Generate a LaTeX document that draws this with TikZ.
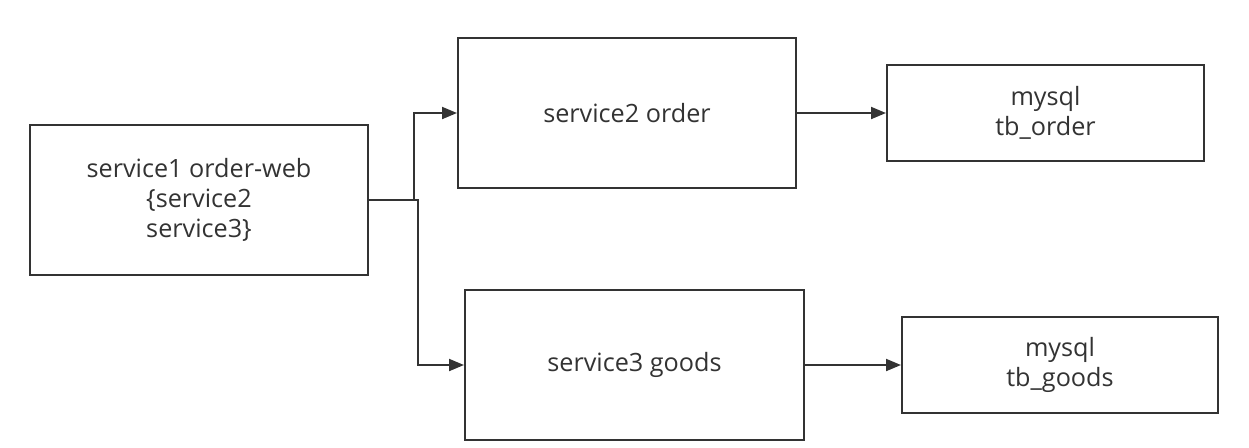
\documentclass[tikz,border=0pt]{standalone}
\usepackage{fontspec}
\setmainfont{Open Sans}
\usepackage{tikz}
\usepackage{xcolor}
\usetikzlibrary{arrows.meta}
\definecolor{BoxLine}{RGB}{51, 51, 51}
\definecolor{BoxText}{RGB}{51, 51, 51}

\begin{document}
\begin{tikzpicture}[x=0.5pt, y=-0.5pt,
    svcbox/.style={draw=BoxLine, line width=1pt, fill=white, align=center, text=BoxText,
        font=\fontsize{12.6}{15.2}\selectfont, inner sep=0pt},
    link/.style={BoxLine, line width=1pt, -{Triangle[length=7.5pt, width=6pt]}}]
            \useasboundingbox (0,0) rectangle (1249,447);
            % Caller
            \node[svcbox, minimum width=169pt, minimum height=75pt] (s1) at (199,200) {service1 order-web\\\{service2\\ service3\}};
            
            % Services
            \node[svcbox, minimum width=169pt, minimum height=75pt] (s2) at (627,113) {service2 order};
            \node[svcbox, minimum width=169.5pt, minimum height=75pt] (s3) at (634.5,365) {service3 goods};
            
            % Databases
            \node[svcbox, minimum width=158.5pt, minimum height=48pt] (dborder) at (1045.5,113) {mysql\\tb\_order};
            \node[svcbox, minimum width=158pt, minimum height=48pt] (dbgoods) at (1060,365) {mysql\\tb\_goods};
            
            % Arrows
            \draw[link] (s1.east) -- ++(45,0) |- (s2.west);
            \draw[link] (s1.east) -- ++(49,0) |- (s3.west);
            \draw[link] (s2.east) -- (dborder.west);
            \draw[link] (s3.east) -- (dbgoods.west);
        \end{tikzpicture}
\end{document}
